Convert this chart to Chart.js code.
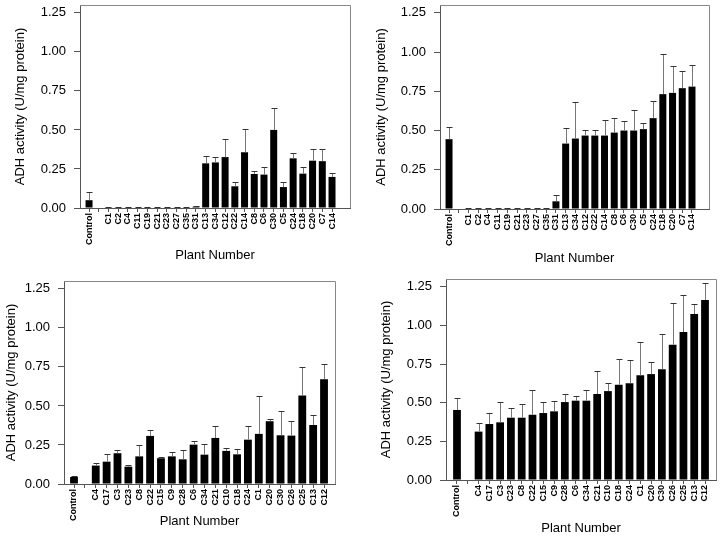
<!DOCTYPE html>
<html><head><meta charset="utf-8">
<script src="https://cdn.jsdelivr.net/npm/chart.js@4.4.1/dist/chart.umd.min.js"></script>
<style>
html,body{margin:0;padding:0;background:#fff;}
#wrap{position:relative;width:720px;height:540px;overflow:hidden;background:#fff;}
canvas{position:absolute;left:0;top:0;}
</style></head><body>
<div id="wrap">
<canvas id="c1" width="720" height="540"></canvas>
<canvas id="c2" width="720" height="540"></canvas>
<canvas id="c3" width="720" height="540"></canvas>
<canvas id="c4" width="720" height="540"></canvas>
</div>
<script>
// ---- data ----
const labelsTop = ['Control','','C1','C2','C4','C11','C19','C21','C23','C27','C35','C31','C13','C34','C12','C22','C14','C8','C6','C30','C5','C24','C18','C20','C7','C14'];
const valuesA = [0.05,null,0.003,0.003,0.003,0.003,0.003,0.003,0.003,0.003,0.003,0.008,0.286,0.292,0.326,0.139,0.357,0.218,0.214,0.500,0.134,0.318,0.220,0.303,0.300,0.199];
const errorsA = [0.05,null,0.003,0.003,0.003,0.003,0.003,0.003,0.003,0.003,0.003,0.005,0.049,0.034,0.116,0.027,0.149,0.018,0.049,0.140,0.033,0.032,0.043,0.074,0.075,0.026];
const valuesB = [0.445,null,0.003,0.003,0.003,0.003,0.003,0.003,0.003,0.003,0.003,0.049,0.417,0.449,0.468,0.468,0.468,0.487,0.500,0.500,0.509,0.579,0.732,0.740,0.770,0.780];
const errorsB = [0.078,null,0.003,0.003,0.003,0.003,0.003,0.003,0.003,0.003,0.003,0.040,0.100,0.230,0.038,0.038,0.100,0.090,0.060,0.128,0.040,0.110,0.258,0.170,0.110,0.140];
const labelsBottom = ['Control','','C4','C17','C3','C23','C8','C22','C15','C9','C28','C6','C34','C21','C10','C18','C24','C1','C20','C30','C26','C25','C13','C12'];
const valuesC = [0.045,null,0.118,0.143,0.197,0.111,0.177,0.308,0.165,0.177,0.158,0.252,0.188,0.295,0.212,0.190,0.284,0.321,0.402,0.312,0.310,0.566,0.378,0.671];
const errorsC = [0.006,null,0.019,0.047,0.019,0.009,0.071,0.038,0.010,0.026,0.058,0.022,0.068,0.079,0.017,0.032,0.090,0.241,0.013,0.156,0.092,0.186,0.062,0.096];
const valuesD = [0.453,null,0.313,0.362,0.373,0.403,0.403,0.422,0.433,0.444,0.504,0.513,0.513,0.556,0.575,0.616,0.625,0.677,0.685,0.716,0.875,0.957,1.073,1.164];
const errorsD = [0.079,null,0.058,0.069,0.129,0.060,0.088,0.162,0.069,0.069,0.050,0.028,0.071,0.149,0.050,0.168,0.149,0.215,0.080,0.228,0.267,0.237,0.063,0.108];
const yTicks = [0, 0.25, 0.5, 0.75, 1.0, 1.25];
const yTitle = 'ADH activity (U/mg protein)';
const xTitle = 'Plant Number';

// ---- layout ----
const panels = [
  {id:'c1', labels:labelsTop, values:valuesA, errors:errorsA, box:{left:80,right:350,top:5,bottom:208}, yTitleX:20, xTitleY:255, xMin:-0.93, xMax:26.85},
  {id:'c2', labels:labelsTop, values:valuesB, errors:errorsB, box:{left:440,right:709,top:5,bottom:209}, yTitleX:381, xTitleY:258, xMin:-0.93, xMax:26.75},
  {id:'c3', labels:labelsBottom, values:valuesC, errors:errorsC, box:{left:64,right:335,top:281,bottom:484}, yTitleX:11, xTitleY:521, xMin:-0.92, xMax:24.01},
  {id:'c4', labels:labelsBottom, values:valuesD, errors:errorsD, box:{left:446,right:716,top:279,bottom:480}, yTitleX:386, xTitleY:528, xMin:-1.02, xMax:24.02}
];

Chart.defaults.font.family = '"Liberation Sans", Arial, Helvetica, sans-serif';
Chart.defaults.color = '#000';

const errorBarPlugin = {
  id:'errbars',
  afterDatasetsDraw(chart){
    const ctx = chart.ctx, ys = chart.scales.y;
    chart.data.datasets.forEach((ds, di) => {
      const meta = chart.getDatasetMeta(di);
      meta.data.forEach((bar, i) => {
        const v = ds.data[i].y, e = ds.errors[i];
        if (v == null || e == null) return;
        const x = Math.round(bar.x) + 0.5;
        const y0 = ys.getPixelForValue(v);
        const y1 = Math.round(ys.getPixelForValue(v + e)) + 0.5;
        ctx.save();
        ctx.lineWidth = 1;
        ctx.strokeStyle = '#777';
        ctx.beginPath(); ctx.moveTo(x, y0); ctx.lineTo(x, y1); ctx.stroke();
        ctx.strokeStyle = '#333';
        ctx.beginPath(); ctx.moveTo(x - 3, y1); ctx.lineTo(x + 3, y1); ctx.stroke();
        ctx.restore();
      });
    });
  }
};

const framePlugin = {
  id:'frame',
  afterDraw(chart){
    const {left, top, right, bottom} = chart.chartArea;
    const ctx = chart.ctx;
    ctx.save();
    ctx.strokeStyle = '#888';
    ctx.lineWidth = 1;
    ctx.beginPath();
    ctx.moveTo(left, Math.round(top) + 0.5);
    ctx.lineTo(Math.round(right) + 0.5, Math.round(top) + 0.5);
    ctx.lineTo(Math.round(right) + 0.5, bottom);
    ctx.stroke();
    ctx.restore();
  }
};

function makeChart(p){
  const padLeft = p.yTitleX - 7.8;
  const yW = p.box.left - padLeft;
  const xBottom = p.xTitleY + 7.8;
  const xH = xBottom - p.box.bottom;
  new Chart(document.getElementById(p.id), {
    type:'bar',
    data:{datasets:[{
      data: p.values.map((v, i) => ({x:i, y:v})),
      errors: p.errors,
      backgroundColor:'#000',
      borderWidth:0,
      barPercentage:0.72,
      categoryPercentage:1
    }]},
    options:{
      responsive:false, animation:false, devicePixelRatio:1,
      layout:{padding:{left:padLeft, right:720 - p.box.right, top:p.box.top, bottom:540 - xBottom}},
      plugins:{legend:{display:false}, tooltip:{enabled:false}},
      scales:{
        x:{
          type:'linear', offset:false, min:p.xMin, max:p.xMax,
          grid:{offset:false, drawOnChartArea:false, drawTicks:true, tickLength:4, color:'#555'},
          border:{display:true, color:'#555'},
          afterBuildTicks: s => { s.ticks = p.labels.map((_, i) => ({value:i})); },
          afterFit: s => { s.height = xH; s.paddingLeft = 0; s.paddingRight = 0; },
          ticks:{autoSkip:false, minRotation:90, maxRotation:90, padding:1,
                 font:{size:9, weight:'bold'}, color:'#000',
                 callback: v => p.labels[v]},
          title:{display:true, text:xTitle, font:{size:13}, padding:{top:0, bottom:0}, color:'#000'}
        },
        y:{
          min:0, max:1.3,
          grid:{drawOnChartArea:false, drawTicks:true, tickLength:6, color:'#555'},
          border:{display:true, color:'#555'},
          afterBuildTicks: s => { s.ticks = yTicks.map(v => ({value:v})); },
          afterFit: s => { s.width = yW; s.paddingTop = 0; s.paddingBottom = 0; },
          ticks:{padding:8, font:{size:13}, color:'#000', callback: v => Number(v).toFixed(2)},
          title:{display:true, text:yTitle, font:{size:13}, padding:{top:0, bottom:0}, color:'#000'}
        }
      }
    },
    plugins:[errorBarPlugin, framePlugin]
  });
}
panels.forEach(makeChart);
</script>
</body></html>
